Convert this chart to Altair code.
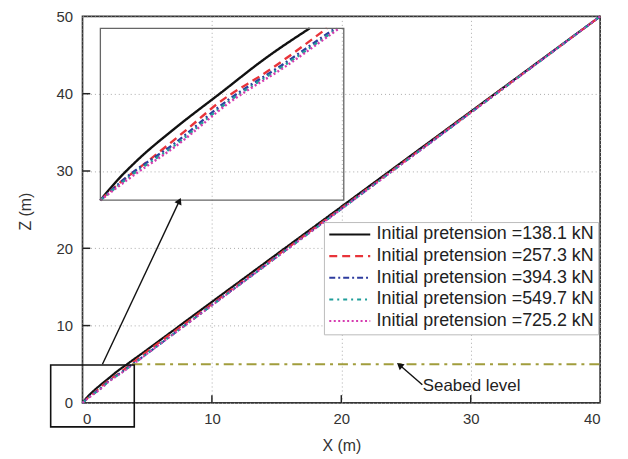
import altair as alt
import pandas as pd

# ---------------- data ----------------
series = [
    "Initial pretension =138.1 kN",
    "Initial pretension =257.3 kN",
    "Initial pretension =394.3 kN",
    "Initial pretension =549.7 kN",
    "Initial pretension =725.2 kN",
]
colors = ["#111111", "#e8343a", "#2e3c9e", "#1f9e9a", "#d63bb0"]
dashes = [[1, 0], [8, 5], [6, 3, 2, 3], [4, 4, 2, 4], [2, 2.5]]
widths = [2.2, 2.0, 2.0, 2.0, 2.0]

x_138 = [0, 0.30, 0.60, 1.26, 1.97, 2.73, 3.44, 10, 20, 30, 40]
z_138 = [0, 0.62, 1.15, 2.14, 3.11, 4.15, 5.00, 13.07, 25.38, 37.69, 50]
x_257 = [0, 0.30, 0.66, 1.43, 1.92, 2.79, 3.66, 3.72, 10, 20, 30, 40]
z_257 = [0, 0.48, 0.97, 2.07, 2.80, 3.80, 4.92, 5.00, 12.79, 25.19, 37.60, 50]
x_394 = [0, 0.44, 1.21, 2.08, 3.00, 3.71, 3.86, 10, 20, 30, 40]
z_394 = [0, 0.68, 1.64, 2.89, 3.95, 4.82, 5.00, 12.65, 25.10, 37.55, 50]
x_549 = [0, 0.46, 1.24, 2.10, 3.02, 3.74, 3.89, 10, 20, 30, 40]
z_549 = [0, 0.66, 1.62, 2.86, 3.92, 4.80, 4.99, 12.62, 25.08, 37.54, 50]
x_725 = [0, 0.48, 1.26, 2.12, 3.05, 3.76, 3.91, 10, 20, 30, 40]
z_725 = [0, 0.64, 1.60, 2.84, 3.90, 4.79, 4.98, 12.60, 25.06, 37.53, 50]

xs = [x_138, x_257, x_394, x_549, x_725]
zs = [z_138, z_257, z_394, z_549, z_725]

seabed_level = 5.0
seabed_x = [3.85, 40]

# inset: shows x 0..4, z 0..5, placed inside the main axes
inset_src_x = [0, 4]
inset_src_z = [0, 5]
inset_dst_x = [1.38, 20.19]
inset_dst_z = [26.22, 48.46]
# small zoom box around the origin
zoom_box_x = [-2.46, 4.0]
zoom_box_z = [-3.1, 4.9]
# arrow from zoom box to inset
arrow1_x = [1.54, 7.45]
arrow1_z = [5.0, 26.0]
# seabed arrow and label
arrow2_x = [26.26, 24.57]
arrow2_z = [2.35, 4.8]
seabed_label = "Seabed level"
seabed_label_pos = [26.3, 2.2]

x_ticks = [0, 10, 20, 30, 40]
z_ticks = [0, 10, 20, 30, 40, 50]

# ---------------- tables ----------------
rows = []
for s, xv, zv in zip(series, xs, zs):
    for a, b in zip(xv, zv):
        rows.append({"series": s, "x": a, "z": b})
df = pd.DataFrame(rows)

FONT = "Liberation Sans"
W, H = 521, 389

xscale = alt.Scale(domain=[0, 40], nice=False, zero=False)
zscale = alt.Scale(domain=[0, 50], nice=False, zero=False)
color_scale = alt.Scale(domain=series, range=colors)
dash_scale = alt.Scale(domain=series, range=dashes)
width_scale = alt.Scale(domain=series, range=widths)

legend = alt.Legend(
    title=None, orient="none", legendX=243, legendY=207,
    symbolType="stroke", symbolSize=1700, symbolStrokeWidth=2,
    labelFont=FONT, labelFontSize=18, labelColor="#222222", labelLimit=400,
    fillColor="white", strokeColor="#bbbbbb", padding=4, rowPadding=2.8,
    clipHeight=17, labelOffset=5,
)

main = alt.Chart(df).mark_line(clip=False, interpolate="monotone").encode(
    x=alt.X("x:Q", scale=xscale,
            axis=alt.Axis(title="X (m)", values=x_ticks, format="d", grid=True,
                          gridDash=[1, 3], gridColor="#aaaaaa", tickSize=0,
                          domain=False, labelPadding=9, titlePadding=11)),
    y=alt.Y("z:Q", scale=zscale,
            axis=alt.Axis(title="Z (m)", values=z_ticks, format="d", grid=True,
                          gridDash=[1, 3], gridColor="#aaaaaa", tickSize=0,
                          domain=False, labelPadding=10,
                          titleX=-49, titleY=196)),
    color=alt.Color("series:N", scale=color_scale, legend=legend, sort=series),
    strokeDash=alt.StrokeDash("series:N", scale=dash_scale, legend=legend, sort=series),
    strokeWidth=alt.StrokeWidth("series:N", scale=width_scale, legend=None),
    order=alt.Order("x:Q"),
    detail="series:N",
)

# inward tick marks
xt = pd.DataFrame({"x": [10, 20, 30]})
x_tickmarks = alt.Chart(xt).mark_rule(color="#222222", strokeWidth=1.5).encode(
    x=alt.X("x:Q", scale=xscale), y=alt.datum(0), y2=alt.datum(1.0))
zt = pd.DataFrame({"z": [10, 20, 30, 40]})
z_tickmarks = alt.Chart(zt).mark_rule(color="#222222", strokeWidth=1.5).encode(
    y=alt.Y("z:Q", scale=zscale), x=alt.datum(0), x2=alt.datum(0.6))

# seabed line
seabed = alt.Chart(pd.DataFrame({"x": [seabed_x[0]], "x2": [seabed_x[1]], "z": [seabed_level]})).mark_rule(
    color="#a19d3c", strokeWidth=2.2, strokeDash=[10, 5, 3, 5]).encode(
    x=alt.X("x:Q", scale=xscale), x2="x2:Q", y=alt.Y("z:Q", scale=zscale))

# inset curves (mapped into main data space)
sx = (inset_dst_x[1] - inset_dst_x[0]) / (inset_src_x[1] - inset_src_x[0])
sz = (inset_dst_z[1] - inset_dst_z[0]) / (inset_src_z[1] - inset_src_z[0])
inset_lines = alt.Chart(df).transform_filter(
    (alt.datum.x <= inset_src_x[1]) & (alt.datum.z <= inset_src_z[1] + 0.001)
).transform_calculate(
    ix=f"{inset_dst_x[0]} + datum.x * {sx}",
    iz=f"{inset_dst_z[0]} + datum.z * {sz}",
).mark_line(clip=False, interpolate="monotone").encode(
    x=alt.X("ix:Q", scale=xscale),
    y=alt.Y("iz:Q", scale=zscale),
    color=alt.Color("series:N", scale=color_scale, legend=None, sort=series),
    strokeDash=alt.StrokeDash("series:N", scale=dash_scale, legend=None, sort=series),
    strokeWidth=alt.value(2.4),
    order=alt.Order("x:Q"),
    detail="series:N",
)

boxes = pd.DataFrame({
    "x": [inset_dst_x[0], zoom_box_x[0]], "x2": [inset_dst_x[1], zoom_box_x[1]],
    "z": [inset_dst_z[0], zoom_box_z[0]], "z2": [inset_dst_z[1], zoom_box_z[1]],
    "kind": ["inset", "zoom"],
})
inset_frame = alt.Chart(boxes).transform_filter(alt.datum.kind == "inset").mark_rect(
    fill=None, stroke="#666666", strokeWidth=1.3, clip=False).encode(
    x=alt.X("x:Q", scale=xscale), x2="x2:Q", y=alt.Y("z:Q", scale=zscale), y2="z2:Q")
zoom_frame = alt.Chart(boxes).transform_filter(alt.datum.kind == "zoom").mark_rect(
    fill=None, stroke="#111111", strokeWidth=1.6, clip=False).encode(
    x=alt.X("x:Q", scale=xscale), x2="x2:Q", y=alt.Y("z:Q", scale=zscale), y2="z2:Q")

arrows = pd.DataFrame({
    "x": [arrow1_x[0], arrow2_x[0]], "x2": [arrow1_x[1], arrow2_x[1]],
    "z": [arrow1_z[0], arrow2_z[0]], "z2": [arrow1_z[1], arrow2_z[1]],
    "angle": [25, 309],
})
arrow_lines = alt.Chart(arrows).mark_rule(color="#111111", strokeWidth=1.4, clip=False).encode(
    x=alt.X("x:Q", scale=xscale), x2="x2:Q", y=alt.Y("z:Q", scale=zscale), y2="z2:Q")
arrow_heads = alt.Chart(arrows).mark_point(shape="triangle", filled=True, color="#111111",
                                           size=60, opacity=1, clip=False).encode(
    x=alt.X("x2:Q", scale=xscale), y=alt.Y("z2:Q", scale=zscale),
    angle=alt.Angle("angle:Q", scale=None))

label = alt.Chart(pd.DataFrame({"x": [seabed_label_pos[0]], "z": [seabed_label_pos[1]],
                                "t": [seabed_label]})).mark_text(
    align="left", baseline="middle", font=FONT, fontSize=17, color="#222222").encode(
    x=alt.X("x:Q", scale=xscale), y=alt.Y("z:Q", scale=zscale), text="t:N")

chart = alt.layer(
    main, x_tickmarks, z_tickmarks, seabed, inset_lines, inset_frame, zoom_frame,
    arrow_lines, arrow_heads, label,
).resolve_scale(color="shared", strokeDash="shared").properties(
    width=W, height=H, background="white",
    autosize=alt.AutoSizeParams(type="none"),
    padding={"left": 75, "top": 7, "right": 20, "bottom": 52},
).configure_view(
    stroke="#333333", strokeWidth=1.7
).configure_axis(
    labelFont=FONT, labelFontSize=15, labelColor="#333333",
    titleFont=FONT, titleFontSize=16, titleColor="#333333", titleFontWeight="normal",
)

chart.save("out.html", embed_options={"renderer": "svg", "actions": False})
